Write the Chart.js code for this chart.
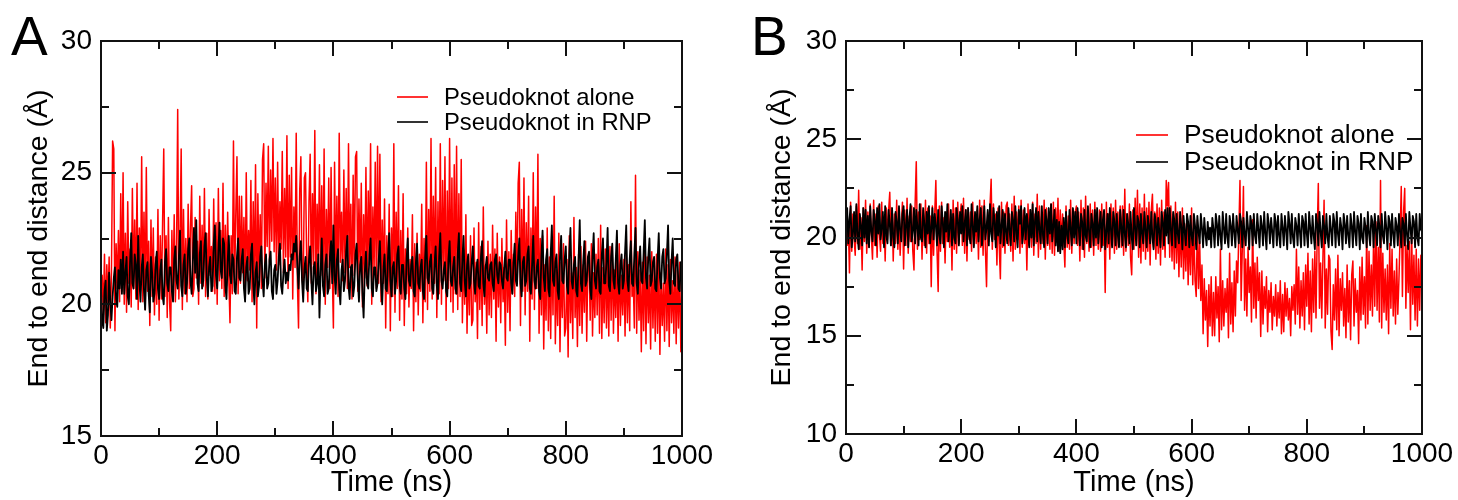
<!DOCTYPE html>
<html>
<head>
<meta charset="utf-8">
<script src="https://cdn.jsdelivr.net/npm/chart.js@4.4.1/dist/chart.umd.min.js"></script>
<style>
  body { margin: 0; background: #fff; }
  canvas { position: absolute; top: 0; }
  #chartA { left: 0; }
  #chartB { left: 729px; }
</style>
</head>
<body>
<canvas id="chartA" width="729" height="500"></canvas>
<canvas id="chartB" width="729" height="500"></canvas>
<script>
// one sample every 2 ns, 0..1000 ns (20 samples per row = 40 ns)
const STEP_NS = 2;

const seriesLabels = ['Pseudoknot alone', 'Pseudoknot in RNP'];
const xTicksNs = [0, 200, 400, 600, 800, 1000];
const yTicksA = [15, 20, 25, 30];
const yTicksB = [10, 15, 20, 25, 30];

// Panel A - pseudoknot alone (red)
const aloneA = [
  20.4, 21.1, 19.6, 21.9, 19.3, 21.5, 20.0, 21.8, 19.1, 21.2, 26.2, 25.9, 19.0, 22.3, 20.6, 22.8, 20.1, 24.2, 20.5, 25.0,
  20.0, 22.7, 19.7, 23.9, 20.8, 22.1, 19.9, 24.4, 20.6, 23.2, 20.2, 24.6, 19.8, 22.9, 20.5, 25.6, 20.1, 23.5, 19.8, 25.2,
  20.5, 22.4, 19.2, 23.2, 20.3, 22.9, 19.6, 21.8, 20.0, 23.6, 19.4, 22.6, 20.2, 23.1, 25.9, 20.3, 22.6, 19.5, 23.3, 20.1,
  19.0, 22.8, 20.4, 23.4, 20.1, 21.9, 27.4, 20.2, 22.3, 25.9, 19.8, 23.6, 20.4, 22.5, 20.1, 23.8, 20.6, 22.9, 24.5, 20.3,
  20.6, 23.3, 21.0, 22.4, 20.0, 24.1, 20.8, 23.0, 20.7, 24.4, 20.3, 22.7, 20.2, 23.6, 21.1, 22.2, 20.5, 24.0, 20.4, 23.1,
  20.0, 24.4, 20.9, 22.8, 20.6, 24.6, 20.3, 23.0, 20.7, 23.5, 21.0, 19.3, 22.6, 20.4, 26.2, 20.8, 23.4, 25.6, 20.4, 24.1,
  20.8, 24.1, 21.2, 23.3, 20.2, 25.0, 20.9, 22.8, 21.3, 24.7, 20.1, 23.9, 20.7, 25.3, 19.1, 24.2, 21.0, 23.4, 20.6, 25.5,
  26.1, 21.0, 24.6, 22.2, 26.0, 21.6, 25.1, 22.4, 26.3, 22.0, 24.8, 21.3, 25.4, 21.5, 23.9, 22.1, 25.8, 21.2, 24.4, 21.8,
  26.4, 20.6, 24.9, 21.8, 25.2, 20.2, 23.7, 21.4, 26.5, 20.9, 19.1, 24.3, 25.6, 21.1, 20.5, 24.8, 25.0, 21.6, 20.1, 23.9,
  25.7, 20.8, 24.2, 21.5, 26.6, 20.4, 23.8, 21.7, 25.3, 21.1, 24.5, 20.7, 25.9, 20.0, 23.6, 21.4, 24.8, 20.6, 25.2, 21.3,
  19.1, 25.4, 21.0, 24.1, 20.3, 26.5, 21.6, 23.5, 20.9, 25.1, 21.2, 24.4, 20.6, 26.1, 21.4, 23.8, 20.2, 24.9, 21.1, 25.6,
  25.8, 20.5, 24.0, 21.3, 24.6, 19.9, 23.4, 21.0, 25.2, 20.7, 24.3, 21.5, 26.1, 20.0, 23.7, 21.2, 25.4, 20.6, 26.0, 20.8,
  25.7, 20.1, 23.2, 20.8, 24.0, 19.1, 22.6, 20.4, 23.8, 19.0, 22.9, 20.3, 26.1, 19.7, 23.5, 20.6, 24.5, 19.4, 22.8, 20.2,
  24.2, 19.2, 22.1, 20.4, 22.9, 19.9, 21.7, 20.6, 23.4, 19.0, 22.3, 20.1, 22.7, 19.6, 21.9, 20.5, 23.8, 19.3, 22.5, 20.1,
  25.4, 19.8, 23.6, 20.5, 26.3, 20.2, 24.1, 20.8, 25.2, 19.5, 23.9, 20.4, 26.1, 20.0, 24.7, 20.9, 25.6, 19.4, 24.3, 20.6,
  26.3, 20.1, 24.8, 19.7, 25.3, 20.4, 26.0, 19.8, 24.2, 20.3, 25.5, 19.3, 22.1, 20.0, 23.4, 18.9, 21.8, 19.6, 22.6, 19.2,
  19.4, 22.9, 20.1, 21.6, 18.7, 23.1, 19.8, 22.2, 19.2, 23.7, 20.0, 21.5, 18.9, 22.4, 19.6, 21.9, 19.5, 23.0, 20.2, 22.1,
  18.6, 22.7, 19.9, 21.8, 19.3, 22.5, 20.1, 21.4, 18.45, 23.2, 19.7, 22.0, 19.0, 22.8, 20.4, 21.9, 20.3, 23.5, 20.8, 24.6,
  25.4, 19.2, 23.6, 20.5, 24.8, 19.6, 23.1, 20.5, 24.1, 18.6, 22.9, 20.2, 25.0, 19.8, 23.7, 20.6, 25.7, 18.9, 22.5, 19.6,
  22.6, 18.3, 21.5, 19.4, 22.9, 19.0, 21.8, 18.7, 22.4, 19.6, 24.1, 18.5, 21.3, 19.2, 22.7, 18.2, 21.6, 19.5, 22.3, 18.8,
  19.1, 21.7, 18.0, 22.6, 19.3, 21.2, 18.7, 23.3, 19.5, 21.4, 18.4, 21.9, 19.2, 22.2, 18.9, 21.5, 19.7, 22.4, 18.6, 21.6,
  21.7, 19.4, 22.3, 18.8, 21.2, 19.5, 21.9, 19.6, 22.5, 18.9, 23.0, 18.7, 21.4, 19.3, 22.1, 19.1, 21.6, 18.8, 22.2, 19.4,
  22.2, 18.9, 21.3, 19.5, 21.8, 18.6, 22.3, 19.2, 21.1, 19.6, 21.7, 18.8, 22.0, 19.3, 21.5, 19.0, 23.9, 20.3, 21.0, 19.1,
  24.9, 18.9, 22.0, 19.4, 21.3, 18.2, 21.6, 19.0, 22.2, 18.5, 21.8, 19.3, 21.1, 18.3, 22.0, 19.1, 21.4, 18.6, 21.9, 18.9,
  21.9, 18.1, 21.2, 19.2, 20.8, 18.6, 22.1, 19.0, 21.5, 18.4, 21.7, 19.3, 20.9, 18.9, 21.8, 18.5, 21.3, 19.1, 21.6, 18.2,
  20.9
];

// Panel A - pseudoknot in RNP (black)
const rnpA = [
  20.6, 19.4, 19.1, 20.5, 20.9, 19.0, 19.6, 21.2, 20.1, 19.4, 20.3, 21.0, 21.4, 20.2, 19.9, 21.3, 20.6, 21.7, 20.4, 22.0,
  20.4, 21.2, 21.8, 20.3, 20.0, 21.6, 22.7, 20.8, 20.6, 21.9, 21.5, 20.2, 22.6, 20.9, 20.1, 21.4, 21.9, 20.5, 19.8, 21.3,
  21.6, 20.4, 19.7, 21.8, 21.2, 20.1, 20.4, 21.5, 22.0, 20.6, 20.2, 21.3, 21.7, 20.3, 20.0, 21.6, 22.1, 20.8, 20.5, 21.4,
  21.4, 20.5, 20.1, 21.7, 22.2, 20.9, 20.6, 21.8, 22.8, 20.7, 20.3, 21.5, 21.9, 20.4, 20.8, 22.1, 22.5, 20.9, 20.4, 21.6,
  22.9, 21.2, 23.2, 20.8, 20.5, 21.9, 22.4, 20.6, 20.9, 22.2, 22.7, 21.0, 20.3, 21.4, 21.8, 20.5, 20.7, 22.3, 23.0, 21.1,
  20.6, 22.0, 23.1, 21.3, 21.0, 22.5, 22.3, 20.7, 20.2, 21.6, 22.6, 21.1, 20.8, 21.9, 21.7, 20.5, 20.4, 21.8, 22.5, 21.0,
  20.9, 21.7, 22.1, 20.6, 20.1, 21.4, 21.8, 20.4, 20.6, 21.9, 22.3, 20.8, 20.0, 21.2, 21.6, 20.3, 20.7, 21.8, 22.2, 20.9,
  20.3, 21.5, 21.9, 20.6, 20.8, 21.7, 22.0, 20.5, 20.2, 21.3, 21.5, 20.4, 20.9, 21.8, 22.3, 20.7, 20.4, 21.2, 21.7, 20.8,
  21.2, 20.9, 21.5, 21.3, 21.9, 21.7, 22.3, 22.0, 22.6, 21.4, 20.6, 21.8, 22.4, 20.9, 20.1, 21.3, 21.8, 20.6, 20.5, 21.7,
  22.2, 20.9, 20.0, 21.4, 21.6, 20.5, 20.8, 21.9, 19.5, 21.2, 22.5, 20.7, 20.3, 21.5, 21.9, 20.4, 20.6, 21.8, 22.4, 20.8,
  23.0, 21.1, 20.4, 21.7, 22.1, 20.6, 20.0, 21.3, 21.7, 20.5, 20.9, 22.0, 22.6, 20.7, 20.2, 21.4, 21.5, 20.3, 20.7, 21.9,
  22.3, 20.9, 20.1, 21.5, 21.8, 20.4, 19.5, 21.2, 22.0, 20.8, 20.6, 21.9, 22.5, 20.6, 20.3, 21.4, 21.4, 20.5, 20.8, 21.7,
  22.4, 20.8, 20.0, 21.3, 21.9, 20.6, 20.5, 21.8, 22.7, 20.9, 20.3, 21.4, 21.6, 20.4, 20.9, 21.9, 22.2, 20.7, 20.4, 21.5,
  21.5, 20.6, 20.2, 21.7, 22.5, 20.9, 20.7, 21.5, 21.8, 20.5, 20.3, 21.6, 22.3, 20.8, 20.6, 21.4, 21.7, 20.5, 20.2, 21.8,
  22.6, 21.0, 20.8, 21.6, 21.9, 20.6, 20.4, 21.5, 22.2, 20.7, 20.2, 21.8, 22.7, 20.9, 20.6, 21.3, 21.6, 20.5, 20.3, 21.7,
  22.4, 20.9, 20.7, 21.4, 21.8, 20.6, 20.4, 21.9, 22.7, 20.8, 20.5, 21.7, 22.6, 20.9, 20.3, 21.5, 21.9, 20.6, 20.8, 21.6,
  22.2, 20.9, 20.4, 21.3, 21.7, 20.7, 20.6, 21.8, 22.4, 20.8, 20.3, 21.4, 21.8, 21.0, 20.9, 21.5, 21.6, 20.8, 20.5, 21.7,
  21.9, 21.1, 20.8, 21.6, 21.5, 20.9, 20.6, 21.4, 22.0, 21.0, 20.9, 21.7, 21.7, 20.8, 20.4, 21.6, 22.3, 20.9, 20.7, 21.8,
  22.5, 20.8, 20.3, 21.6, 21.8, 20.7, 20.9, 21.9, 22.2, 20.6, 20.4, 21.5, 22.6, 20.9, 20.6, 21.4, 21.7, 20.5, 20.2, 21.8,
  22.8, 21.0, 20.5, 21.7, 22.1, 20.6, 20.3, 21.9, 23.0, 20.9, 20.7, 21.6, 21.9, 20.5, 20.2, 21.8, 22.6, 20.9, 20.8, 21.7,
  22.2, 20.7, 20.4, 21.9, 22.9, 20.9, 20.6, 21.5, 21.8, 20.5, 20.3, 21.7, 23.2, 20.8, 20.5, 21.6, 22.4, 20.7, 20.9, 21.8,
  22.0, 20.6, 20.2, 21.8, 22.7, 20.9, 20.6, 21.4, 21.7, 20.5, 20.4, 21.9, 22.5, 20.8, 20.8, 21.6, 22.9, 20.7, 20.5, 21.8,
  22.3, 20.9, 20.6, 21.7, 22.8, 20.8, 20.4, 21.5, 21.9, 20.6, 20.9, 22.0, 23.0, 20.9, 20.5, 21.7, 22.4, 20.8, 20.7, 21.9,
  22.9, 20.8, 20.4, 21.6, 22.2, 20.9, 20.8, 22.0, 23.2, 21.0, 20.6, 21.8, 22.5, 20.7, 20.9, 21.6, 21.8, 20.6, 20.5, 21.7,
  22.7, 21.0, 20.6, 21.8, 22.1, 20.8, 21.0, 21.9, 23.0, 20.9, 20.4, 21.6, 22.5, 20.8, 20.7, 21.7, 21.9, 20.6, 20.5, 21.6,
  21.4
];

// Panel B - pseudoknot alone (red)
const aloneB = [
  21.4, 19.6, 20.8, 18.2, 21.8, 19.3, 21.2, 20.0, 19.1, 21.6, 19.7, 22.4, 19.4, 21.0, 18.35, 21.5, 19.8, 21.9, 19.2, 21.3,
  19.5, 21.7, 20.1, 18.9, 21.9, 19.6, 21.2, 19.0, 21.6, 20.2, 19.3, 21.8, 19.7, 21.1, 18.8, 21.5, 19.9, 21.4, 22.3, 19.6,
  21.5, 18.8, 21.2, 19.7, 21.9, 19.4, 21.3, 19.1, 20.7, 21.8, 18.4, 21.4, 19.6, 22.0, 19.2, 21.1, 19.8, 21.6, 19.3, 18.35,
  21.7, 23.86, 19.4, 21.3, 19.9, 21.7, 18.9, 21.4, 19.6, 21.9, 19.2, 21.5, 19.7, 21.1, 17.5, 21.6, 19.1, 21.2, 22.9, 19.4,
  17.25, 21.6, 19.3, 21.8, 19.7, 21.0, 18.7, 21.3, 19.8, 21.7, 19.5, 21.2, 18.35, 21.9, 19.4, 21.5, 19.2, 21.8, 19.7, 21.1,
  21.7, 19.6, 22.0, 19.2, 21.4, 18.8, 21.5, 19.9, 21.3, 19.3, 21.8, 19.6, 21.0, 19.7, 21.4, 18.9, 21.9, 19.5, 21.6, 19.1,
  21.9, 19.4, 17.5, 21.3, 19.8, 21.6, 22.97, 19.4, 21.7, 19.9, 21.2, 18.6, 21.5, 19.6, 17.9, 21.8, 19.5, 21.3, 19.2, 21.6,
  21.8, 19.6, 21.2, 19.3, 21.7, 18.8, 22.1, 19.4, 21.3, 19.9, 21.6, 19.2, 21.9, 19.5, 21.4, 19.7, 21.1, 18.35, 21.7, 19.6,
  21.4, 19.5, 21.8, 19.1, 21.2, 19.7, 22.2, 19.0, 21.6, 19.4, 21.3, 19.7, 21.9, 18.9, 21.5, 19.6, 21.3, 19.4, 21.7, 19.2,
  21.8, 19.1, 21.5, 19.8, 22.0, 19.3, 21.4, 19.6, 21.2, 19.9, 18.5, 21.6, 19.5, 21.1, 19.4, 21.9, 19.2, 21.4, 19.7, 21.3,
  21.6, 19.6, 21.3, 18.8, 21.9, 19.4, 21.5, 19.0, 22.1, 19.7, 21.2, 19.3, 21.7, 19.5, 21.4, 19.1, 21.8, 19.6, 21.3, 19.4,
  21.4, 19.3, 21.7, 19.6, 21.1, 17.2, 21.8, 19.5, 21.2, 18.9, 21.7, 19.6, 21.5, 19.2, 21.9, 19.4, 21.3, 19.7, 21.6, 19.5,
  21.6, 19.1, 22.45, 19.3, 21.2, 19.6, 21.7, 19.0, 18.1, 21.4, 19.4, 22.0, 19.6, 22.4, 19.0, 21.7, 18.7, 21.5, 19.3, 22.2,
  18.9, 21.5, 19.3, 21.8, 18.6, 21.4, 22.2, 19.5, 21.3, 18.9, 21.7, 19.2, 21.5, 18.6, 21.9, 19.4, 21.3, 19.0, 22.9, 21.6,
  22.8, 19.0, 21.6, 18.8, 21.2, 18.4, 21.8, 18.7, 21.3, 18.0, 20.9, 18.5, 21.5, 17.9, 20.7, 18.3, 21.1, 17.6, 20.5, 18.1,
  21.5, 17.6, 20.4, 17.8, 17.0, 20.9, 17.4, 19.8, 16.8, 18.6, 15.1, 17.9, 15.8, 17.3, 14.45, 17.6, 15.5, 18.0, 15.0, 17.2,
  15.0, 18.0, 15.9, 17.5, 14.7, 19.4, 15.3, 17.8, 15.5, 17.4, 16.2, 17.9, 14.9, 19.2, 15.6, 17.7, 15.2, 18.3, 16.0, 18.8,
  17.7, 20.3, 22.9, 16.8, 19.4, 22.6, 16.3, 18.9, 16.0, 19.5, 17.2, 18.5, 15.7, 20.9, 16.4, 18.7, 15.9, 19.0, 16.8, 18.2,
  14.96, 18.3, 15.6, 17.5, 16.4, 18.0, 15.2, 17.3, 16.2, 17.7, 15.3, 17.0, 16.0, 17.6, 15.5, 17.2, 15.9, 17.8, 15.1, 17.1,
  15.2, 17.7, 16.0, 17.4, 15.8, 16.9, 15.0, 17.5, 16.3, 17.6, 15.6, 19.4, 16.1, 18.5, 15.4, 17.8, 16.0, 18.2, 15.3, 18.6,
  16.5, 19.2, 15.6, 18.3, 15.2, 18.9, 16.2, 19.3, 15.9, 20.1, 22.75, 16.4, 18.7, 15.9, 19.0, 21.9, 15.4, 18.4, 16.1, 19.1,
  18.9, 15.2, 14.3, 17.6, 15.8, 18.4, 15.3, 19.1, 15.0, 17.9, 16.3, 18.2, 15.5, 17.4, 14.9, 18.6, 15.7, 17.8, 14.8, 18.1,
  18.8, 15.5, 17.9, 16.2, 17.3, 14.6, 18.5, 15.8, 19.0, 16.1, 18.0, 15.4, 20.6, 15.6, 19.3, 16.3, 18.6, 16.0, 20.1, 16.5,
  20.8, 16.3, 19.5, 15.7, 22.9, 15.4, 19.2, 16.2, 18.4, 15.8, 18.6, 15.1, 19.7, 16.4, 19.4, 16.0, 18.3, 15.6, 18.9, 16.1,
  17.9, 20.1, 22.6, 17.0, 21.3, 22.5, 16.4, 19.6, 17.2, 19.8, 15.3, 20.3, 16.6, 19.1, 15.8, 19.4, 15.5, 18.9, 16.3, 19.1,
  17.6
];

// Panel B - pseudoknot in RNP (black)
const rnpB = [
  20.4, 21.5, 19.7, 20.9, 21.6, 19.5, 20.2, 21.3, 19.8, 21.7, 20.1, 19.4, 21.2, 20.6, 19.6, 21.5, 20.0, 21.4, 19.7, 21.1,
  19.5, 21.6, 20.3, 19.8, 21.4, 20.9, 19.6, 21.5, 20.2, 21.7, 19.9, 20.5, 21.3, 19.5, 21.6, 20.1, 19.7, 21.4, 20.7, 19.6,
  21.5, 20.0, 19.5, 21.3, 20.8, 19.7, 21.6, 20.4, 19.8, 21.2, 21.6, 19.6, 20.6, 21.4, 19.5, 20.9, 21.7, 19.8, 20.3, 21.5,
  19.7, 21.4, 20.5, 19.6, 21.7, 20.0, 19.8, 21.5, 20.7, 19.5, 21.3, 20.2, 21.6, 19.7, 20.4, 21.5, 19.9, 21.2, 20.6, 19.6,
  21.4, 20.1, 19.7, 21.6, 20.8, 19.5, 21.3, 20.3, 21.7, 19.8, 20.5, 21.4, 19.6, 21.2, 20.0, 19.7, 21.5, 20.9, 19.6, 21.3,
  20.2, 21.6, 19.8, 20.7, 21.4, 19.6, 21.5, 20.1, 19.7, 21.7, 20.6, 19.5, 21.3, 20.3, 21.6, 19.8, 20.9, 21.5, 19.6, 20.4,
  21.6, 19.9, 20.5, 21.4, 19.6, 21.7, 20.2, 19.8, 21.5, 20.8, 19.5, 21.3, 20.1, 21.6, 19.7, 20.6, 21.4, 19.6, 21.2, 20.3,
  19.7, 21.5, 20.4, 19.6, 21.3, 20.9, 19.8, 21.6, 20.2, 19.5, 21.4, 20.7, 21.6, 19.7, 20.3, 21.5, 19.9, 21.2, 20.6, 19.5,
  21.4, 20.0, 21.7, 19.6, 20.8, 21.5, 19.8, 21.3, 20.4, 19.7, 21.6, 20.1, 19.5, 21.4, 20.9, 19.7, 21.5, 20.2, 21.7, 19.8,
  20.6, 21.4, 19.6, 20.9, 19.3, 20.8, 19.2, 20.6, 19.4, 21.0, 19.5, 21.3, 20.1, 19.7, 21.4, 20.4, 19.6, 21.5, 20.0, 21.3,
  19.7, 21.5, 20.5, 19.6, 21.2, 20.8, 19.4, 21.4, 20.1, 19.8, 21.6, 20.3, 19.5, 21.2, 20.7, 19.6, 21.4, 20.0, 21.5, 19.7,
  20.6, 21.3, 19.5, 20.9, 21.4, 19.4, 20.3, 21.2, 19.7, 21.5, 20.4, 19.5, 21.3, 20.8, 19.6, 21.2, 20.1, 19.5, 21.4, 20.5,
  19.6, 21.4, 20.2, 19.5, 21.2, 20.7, 19.7, 21.3, 20.0, 19.4, 21.5, 20.5, 19.6, 21.1, 20.8, 19.5, 21.2, 20.2, 19.7, 21.3,
  20.4, 19.5, 21.1, 20.6, 19.7, 21.3, 20.0, 19.4, 21.2, 20.7, 19.6, 21.0, 20.3, 19.5, 21.3, 20.8, 19.6, 21.4, 20.1, 21.5,
  19.7, 21.5, 20.4, 19.6, 21.3, 20.9, 19.5, 21.2, 20.2, 19.7, 21.3, 20.6, 19.4, 21.1, 20.3, 19.6, 21.2, 20.8, 19.5, 21.1,
  20.1, 19.6, 21.2, 20.6, 19.4, 21.1, 20.3, 19.7, 21.2, 20.5, 19.5, 21.0, 20.2, 19.6, 20.8, 19.9, 20.5, 19.5, 21.0, 20.4,
  19.5, 21.2, 20.7, 19.6, 21.1, 20.1, 19.4, 21.3, 20.5, 19.7, 21.2, 20.0, 19.5, 21.1, 20.6, 19.6, 21.2, 20.3, 19.5, 21.1,
  20.4, 19.7, 21.2, 20.8, 19.5, 21.0, 20.2, 19.6, 21.3, 20.5, 19.4, 21.1, 20.7, 19.6, 21.2, 20.1, 19.7, 21.2, 20.4, 19.5,
  21.1, 20.6, 19.6, 21.3, 20.2, 19.4, 21.2, 20.7, 19.7, 21.0, 20.3, 19.5, 21.2, 20.8, 19.6, 21.1, 20.1, 19.5, 21.2, 20.5,
  19.6, 21.1, 20.4, 19.4, 21.3, 20.7, 19.7, 21.2, 20.0, 19.5, 21.0, 20.6, 19.6, 21.2, 20.3, 19.5, 21.1, 20.8, 19.6, 21.2,
  20.2, 19.5, 21.3, 20.5, 19.7, 21.1, 20.1, 19.4, 21.2, 20.7, 19.6, 21.3, 20.3, 19.5, 21.1, 20.6, 19.7, 21.2, 20.0, 19.5,
  21.1, 20.4, 19.6, 21.2, 20.8, 19.5, 21.3, 20.2, 19.6, 21.0, 20.5, 19.4, 21.2, 20.7, 19.7, 21.1, 20.1, 19.5, 21.2, 20.6,
  19.5, 21.3, 20.3, 19.6, 21.1, 20.7, 19.4, 21.2, 20.0, 19.7, 21.0, 20.5, 19.5, 21.3, 20.2, 19.6, 21.1, 20.8, 19.5, 21.2,
  20.4, 19.6, 21.1, 20.6, 19.5, 21.2, 20.1, 19.7, 21.3, 20.5, 19.4, 21.1, 20.8, 19.6, 21.2, 20.2, 19.5, 21.0, 20.6, 19.6,
  21.2, 20.3, 19.5, 21.0, 20.7, 19.6, 21.2, 20.1, 19.4, 21.3, 20.5, 19.7, 21.1, 20.8, 19.5, 21.2, 20.0, 19.6, 21.2, 20.4,
  20.3
];

const FONT = 'Liberation Sans, Arial, Helvetica, sans-serif';

function toPoints(values) {
  return values.map((v, i) => ({ x: i * STEP_NS, y: v }));
}

// frame, inward ticks on all four sides, in-plot legend and panel letter
const framePlugin = {
  id: 'frameTicks',
  afterDatasetsDraw(chart, args, opts) {
    const { ctx, chartArea: a, scales: { x, y } } = chart;
    ctx.save();
    ctx.strokeStyle = '#111';
    ctx.lineWidth = 2;
    ctx.beginPath();
    for (let v = x.min; v <= x.max + 1e-6; v += opts.xMinor) {
      const px = Math.round(x.getPixelForValue(v));
      const len = (Math.abs(v % opts.xMajor) < 1e-6) ? 15 : 8;
      ctx.moveTo(px, a.bottom); ctx.lineTo(px, a.bottom - len);
      ctx.moveTo(px, a.top); ctx.lineTo(px, a.top + len);
    }
    for (let v = y.min; v <= y.max + 1e-6; v += opts.yMinor) {
      const py = Math.round(y.getPixelForValue(v));
      const len = (Math.abs(v % opts.yMajor) < 1e-6) ? 15 : 8;
      ctx.moveTo(a.left, py); ctx.lineTo(a.left + len, py);
      ctx.moveTo(a.right, py); ctx.lineTo(a.right - len, py);
    }
    ctx.stroke();
    ctx.strokeRect(a.left, a.top, a.right - a.left, a.bottom - a.top);

    // legend
    const lg = opts.legend;
    ctx.font = lg.size + 'px ' + FONT;
    ctx.textBaseline = 'middle';
    ctx.textAlign = 'left';
    const items = [chart.data.datasets[1], chart.data.datasets[0]];
    items.forEach((ds, i) => {
      const yy = lg.y + i * lg.gap;
      ctx.strokeStyle = ds.borderColor;
      ctx.lineWidth = 1.6;
      ctx.beginPath();
      ctx.moveTo(lg.x, yy); ctx.lineTo(lg.x + lg.len, yy);
      ctx.stroke();
      ctx.fillStyle = '#000';
      ctx.fillText(ds.label, lg.textX, yy + 1);
    });

    // panel letter
    ctx.font = '55px ' + FONT;
    ctx.textBaseline = 'alphabetic';
    ctx.fillStyle = '#000';
    ctx.fillText(opts.letter, opts.letterX, 55);
    ctx.restore();
  }
};

function makePanel(id, alone, rnp, yTicks, box, extra) {
  const yMin = yTicks[0], yMax = yTicks[yTicks.length - 1];
  return new Chart(document.getElementById(id), {
    type: 'line',
    data: {
      datasets: [
        { label: seriesLabels[1], data: toPoints(rnp), borderColor: '#000',
          borderWidth: 1.8, pointRadius: 0, order: 1, borderJoinStyle: 'round' },
        { label: seriesLabels[0], data: toPoints(alone), borderColor: '#ff0000',
          borderWidth: 1.5, pointRadius: 0, order: 2, borderJoinStyle: 'round' }
      ]
    },
    options: {
      responsive: false,
      animation: false,
      events: [],
      layout: { padding: { left: 0, top: box.top, right: box.right, bottom: 0 } },
      elements: { line: { tension: 0 } },
      plugins: {
        legend: { display: false },
        tooltip: { enabled: false },
        frameTicks: extra
      },
      scales: {
        x: {
          type: 'linear', min: 0, max: 1000,
          afterBuildTicks: s => { s.ticks = xTicksNs.map(v => ({ value: v })); },
          ticks: { color: '#000', font: { family: FONT, size: 28 }, padding: 3, maxRotation: 0,
                   autoSkip: false, callback: v => String(v) },
          grid: { display: false, drawTicks: false },
          border: { display: false },
          title: { display: true, text: 'Time (ns)', color: '#000',
                   font: { family: FONT, size: 29 }, padding: { top: 0, bottom: 0 } },
          afterFit: s => { s.height = box.xAxisH; }
        },
        y: {
          type: 'linear', min: yMin, max: yMax,
          afterBuildTicks: s => { s.ticks = yTicks.map(v => ({ value: v })); },
          ticks: { color: '#000', font: { family: FONT, size: 28 }, padding: 9, autoSkip: false,
                   callback: v => String(v) },
          grid: { display: false, drawTicks: false },
          border: { display: false },
          title: { display: true, text: 'End to end distance (Å)', color: '#000',
                   font: { family: FONT, size: 28.5 }, padding: { top: box.titlePad, bottom: 0 } },
          afterFit: s => { s.width = box.yAxisW; }
        }
      }
    },
    plugins: [framePlugin]
  });
}

makePanel('chartA', aloneA, rnpA, yTicksA,
  { top: 41, right: 47, xAxisH: 64, yAxisW: 101, titlePad: 22 },
  { xMajor: 200, xMinor: 100, yMajor: 5, yMinor: 2.5, letter: 'A', letterX: 11,
    legend: { x: 397, len: 31, textX: 444, y: 97, gap: 25, size: 23.8 } });

makePanel('chartB', aloneB, rnpB, yTicksB,
  { top: 41, right: 36, xAxisH: 66, yAxisW: 117, titlePad: 36 },
  { xMajor: 200, xMinor: 100, yMajor: 5, yMinor: 2.5, letter: 'B', letterX: 22,
    legend: { x: 407, len: 32, textX: 455, y: 135, gap: 27, size: 26.3 } });
</script>
</body>
</html>
